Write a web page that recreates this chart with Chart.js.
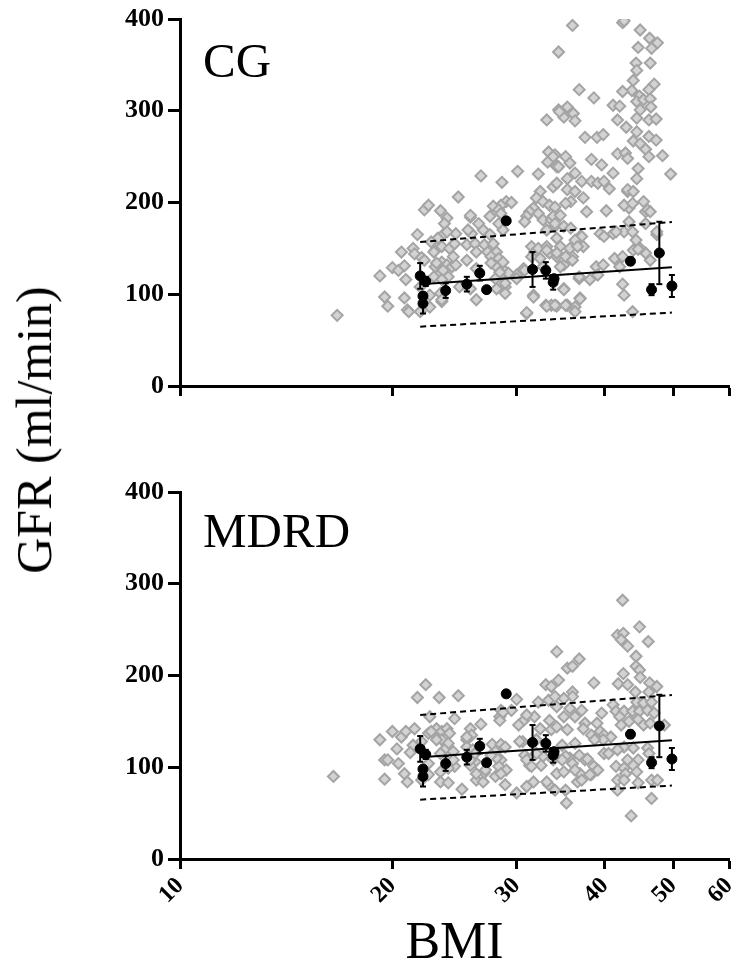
<html>
  <head>
    <style>
      body { margin: 0; background: #fff; }
      #wrap { position: relative; width: 738px; height: 976px; }
      #wrap canvas { position: absolute; left: 0; }
      .lbl { position: absolute; font-family: "Liberation Serif", "Times New Roman", serif; line-height: 1; white-space: nowrap; color: #000; }
    </style>
  </head>
  <body>
    <div id="wrap">
      <canvas id="cgChart" width="738" height="400" style="top:0px"></canvas>
      <canvas id="mdrdChart" width="738" height="516" style="top:460px"></canvas>
      <div class="lbl" style="left:203px; top:36px; font-size:49px;">CG</div>
      <div class="lbl" style="left:203px; top:506px; font-size:49px;">MDRD</div>
      <div class="lbl" style="left:34px; top:430px; font-size:50px; transform: translate(-50%,-50%) rotate(-90deg);">GFR (ml/min)</div>
    </div>
    <script src="https://cdn.jsdelivr.net/npm/chart.js@4.4.0/dist/chart.umd.min.js"></script>
    <script>
      // axis ticks
      const xTicks = [10, 20, 30, 40, 50, 60];
      const yTicks = [0, 100, 200, 300, 400];

      // individual subjects [BMI, GFR] - CG estimate
      const cgPoints = [
        [16.7,77],[19.2,120],[19.5,97],[19.7,87],[20.0,129],[20.4,126],[20.6,146],[20.8,131],[20.9,116],[20.8,96],
        [21.0,83],[21.1,81],[21.4,150],[21.5,144],[21.7,165],[22.2,192],[22.5,197],[22.0,140],[21.9,108],[21.9,81],
        [23.4,191],[23.9,183],[23.7,177],[24.8,206],[25.8,184],[26.7,229],[28.6,222],[30.1,234],[32.2,231],[33.3,255],
        [33.6,246],[34.0,252],[34.2,239],[33.8,217],[32.4,212],[32.0,205],[32.7,201],[33.4,197],[31.7,194],[31.3,190],
        [31.0,185],[30.8,179],[32.2,188],[32.7,181],[33.6,181],[34.0,174],[33.1,170],[29.0,201],[29.5,200],[28.5,197],
        [27.8,196],[28.3,192],[28.5,188],[27.5,185],[28.3,177],[25.9,166],[25.6,170],[24.6,166],[23.6,165],[23.2,161],
        [22.7,157],[23.0,148],[23.5,152],[24.1,150],[24.5,155],[25.5,154],[26.2,155],[26.3,146],[27.0,154],[27.8,155],
        [27.3,146],[28.1,146],[27.6,141],[28.3,139],[28.1,130],[28.7,135],[28.9,125],[28.5,121],[28.9,108],[28.9,101],
        [30.0,121],[30.7,128],[31.5,152],[31.8,146],[32.2,150],[33.1,152],[33.4,145],[34.2,141],[32.7,130],[31.7,99],
        [31.0,79],[33.0,88],[33.6,88],[22.2,137],[23.0,130],[23.5,135],[23.9,132],[24.3,130],[24.6,132],[23.4,123],
        [24.0,119],[24.9,108],[25.8,106],[23.4,101],[23.5,92],[22.6,99],[22.6,86],[26.3,94],
        [45.7,145],[47.4,165],[44.9,150],[45.7,190],[43.3,194],[43.1,212],[42.6,168],[39.4,166],[41.1,166],[36.8,117],
        [36.9,96],[35.0,106],[36.3,86],[35.4,88],[34.2,87],[33.1,87],[31.0,80],[31.7,97],[35.0,132],[36.0,141],
        [36.9,163],[37.3,152],[34.2,161],[33.1,148],[31.5,141],[32.4,139],[30.8,126],[30.0,117],[29.2,123],[28.9,112],
        [28.1,106],[28.0,117],[28.4,124],[27.6,134],[27.5,165],[28.7,170],[26.9,170],[26.5,177],[25.8,186],[26.3,128],
        [25.5,137],[24.4,141],[23.9,168],[22.9,146],[23.1,134],[23.6,126],[22.9,119],[23.5,116],[23.5,94],
        [36.0,393],[34.4,364],[42.4,396],[42.6,398],[44.9,388],[46.3,379],[47.5,374],[46.6,368],[44.6,369],[46.4,352],
        [44.3,352],[44.4,344],[43.9,333],[47.0,329],[46.2,323],[43.7,322],[42.4,321],[44.8,316],[44.4,310],[45.4,312],
        [46.4,313],[46.5,304],[44.9,301],[41.1,306],[42.0,305],[36.8,323],[38.6,314],[34.4,301],[35.4,304],[35.0,293],
        [36.1,297],[36.3,289],[41.7,290],[44.4,292],[46.2,290],[47.3,291],[42.9,282],[44.4,277],[37.5,271],[39.0,271],
        [39.8,274],[43.9,267],[44.9,264],[46.2,272],[47.3,268],[45.7,258],[41.7,253],[42.8,254],[43.1,248],[46.2,250],
        [48.3,251],[38.3,247],[39.6,241],[41.1,232],[44.6,237],[44.4,226],[49.6,231],[33.8,250],[34.2,240],[35.2,250],
        [35.7,243],[36.3,232],[37.1,223],[38.3,223],[39.1,221],[39.9,223],[40.6,215],[35.4,226],[34.2,221],[35.4,214],
        [36.3,212],[37.3,205],[35.8,201],[35.2,199],[34.0,195],[37.7,190],[40.2,191],[43.1,214],[43.9,212],[42.6,197],
        [43.8,199],[45.4,201],[46.0,192],[46.4,190],[33.8,185],[34.6,186],[34.0,177],[35.0,174],[35.8,172],[43.3,179],
        [45.7,177],[47.4,168],[37.1,163],[39.9,163],[41.5,168],[43.8,168],[44.3,159],[36.3,159],[34.6,152],[35.7,150],
        [36.6,152],[34.2,145],[35.2,141],[36.0,137],[34.6,130],[41.3,139],[42.4,141],[43.9,148],[44.6,149],[46.4,137],
        [38.9,130],[39.8,132],[42.0,130],[36.8,119],[38.1,116],[39.1,121],[35.0,105],[42.4,111],[42.6,99],[36.9,95],
        [34.0,88],[35.2,88],[36.3,81],[43.8,81],[33.1,290],[34.5,299],[33.2,244],[34.4,239]
      ];

      // individual subjects [BMI, GFR] - MDRD estimate
      const mdrdPoints = [
        [16.5,90],[19.2,130],[20.0,139],[20.6,133],[20.9,139],[21.5,142],[19.5,108],[19.7,108],[20.4,104],[19.5,87],
        [20.8,93],[21.0,84],[21.4,124],[21.7,176],[22.3,190],[23.3,176],[24.8,178],[22.6,155],[22.5,137],[23.1,142],
        [23.5,139],[23.9,142],[24.1,137],[23.5,130],[24.0,126],[23.7,119],[23.4,115],[24.4,117],[22.5,104],[22.5,92],
        [23.4,95],[23.4,84],[24.0,83],[24.5,101],[25.1,76],[24.5,153],[25.8,142],[25.5,130],[25.9,135],[25.5,122],
        [26.0,119],[26.2,106],[25.8,102],[26.3,86],[26.9,84],[26.7,147],[27.0,94],[27.7,125],[28.0,117],[28.5,125],
        [28.5,108],[28.3,101],[29.0,97],[28.0,90],[28.9,81],[28.4,155],[28.5,162],[30.0,174],[29.5,162],[30.7,151],
        [30.2,146],[30.6,128],[30.8,113],[31.3,102],[30.0,72],[31.0,79],[31.7,84],[32.2,171],[33.0,190],[33.3,173],
        [34.4,195],[34.2,226],[31.8,155],[32.4,142],[33.4,151],[33.6,141],[32.0,130],[32.7,112],[34.0,112],[32.5,102],
        [34.2,93],[33.3,81],
        [22.7,139],[23.1,130],[25.5,133],[28.4,151],[28.7,160],[30.3,128],[31.0,157],[34.2,166],[36.0,182],[31.0,108],
        [32.0,115],[31.5,101],[33.8,108],[35.7,110],[36.9,93],[37.5,108],[38.6,101],[33.1,84],[34.0,75],[38.3,92],
        [28.5,93],[28.1,110],[26.3,93],[27.1,97],[22.0,86],[24.0,99],[24.4,108],[25.8,108],[26.2,115],[27.6,113],
        [28.9,122],[20.3,120],[21.2,116],[22.0,128],
        [42.4,282],[44.8,253],[46.1,237],[41.7,244],[42.5,246],[42.2,239],[43.1,232],[44.3,221],[44.3,210],[44.8,206],
        [44.9,198],[42.5,202],[41.8,191],[43.1,190],[44.2,182],[46.3,192],[47.4,188],[46.2,182],[35.4,208],[36.0,210],
        [36.8,218],[38.6,192],[33.6,188],[36.0,177],[34.0,177],[35.0,175],[41.1,168],[41.5,161],[44.4,171],[45.4,170],
        [46.6,171],[42.6,161],[43.8,161],[44.8,161],[46.0,162],[47.0,159],[39.6,159],[37.1,162],[35.7,164],[35.0,155],
        [36.3,155],[37.5,148],[39.0,148],[42.0,155],[42.2,146],[43.3,150],[44.6,152],[45.4,146],[46.4,148],[48.6,146],
        [34.2,144],[35.4,141],[37.3,142],[38.3,135],[39.4,139],[39.9,135],[40.8,133],[39.8,130],[38.7,130],[36.3,126],
        [34.8,124],[42.6,122],[43.9,121],[46.0,121],[41.7,119],[39.9,115],[40.5,115],[37.8,109],[35.2,112],[36.8,113],
        [34.8,108],[43.1,108],[44.6,108],[46.2,115],[41.5,101],[42.6,99],[43.9,102],[44.4,95],[42.8,93],[39.1,97],
        [38.1,92],[36.0,104],[36.3,97],[35.0,95],[36.6,84],[37.1,86],[35.2,75],[35.3,61],[41.7,86],[42.6,86],
        [41.7,75],[44.6,83],[46.6,86],[47.5,86],[46.6,66],[43.6,47]
      ];

      // group means with SD bars (same in both panels)
      const meanBmi = [21.9, 22.3, 22.1, 22.1, 23.8, 25.5, 26.6, 27.2, 29.0, 31.6, 33.0, 33.9, 33.8, 43.5, 46.6, 47.8, 49.8];
      const meanGfr = [120, 114, 98, 90, 104, 111, 123, 105, 180, 127, 126, 117, 113, 136, 105, 145, 109];
      const meanSd  = [14, 5, 3, 11, 8, 8, 8, 2, 3, 19, 9, 4, 8, 4, 6, 34, 12];

      // regression line and prediction band
      const fitBmi = [21.9, 49.8];
      const fitMid = [111, 129.4];
      const fitUpper = [157, 178.7];
      const fitLower = [64.7, 80];

      const serif = "'Liberation Serif', 'Times New Roman', serif";

      function makePanel(id, points, showX, padTop, xH) {
        const scatter = points.map(p => ({x: p[0], y: p[1]}));
        const means = meanBmi.map((b, i) => ({x: b, y: meanGfr[i]}));
        const bars = [];
        meanBmi.forEach((b, i) => {
          bars.push({x: b, y: meanGfr[i] - meanSd[i]}, {x: b, y: meanGfr[i] + meanSd[i]}, {x: b, y: null});
        });
        const line = arr => fitBmi.map((b, i) => ({x: b, y: arr[i]}));

        return new Chart(document.getElementById(id), {
          type: 'scatter',
          data: {
            datasets: [
              { data: means, pointRadius: 5, pointBackgroundColor: '#000', pointBorderColor: '#000', order: 0 },
              { data: bars, showLine: true, spanGaps: false, borderColor: '#000', borderWidth: 2,
                pointStyle: 'line', pointRadius: 3, pointBorderWidth: 2, pointBorderColor: '#000', order: 1 },
              { data: line(fitMid), showLine: true, borderColor: '#000', borderWidth: 2, pointRadius: 0, order: 2 },
              { data: line(fitUpper), showLine: true, borderColor: '#000', borderWidth: 2, borderDash: [6, 4], pointRadius: 0, order: 2 },
              { data: line(fitLower), showLine: true, borderColor: '#000', borderWidth: 2, borderDash: [6, 4], pointRadius: 0, order: 2 },
              { data: scatter, pointStyle: 'rectRot', pointRadius: 5.5, pointBackgroundColor: '#d3d3d3',
                pointBorderColor: '#a4a4a4', pointBorderWidth: 2, order: 5 }
            ]
          },
          options: {
            responsive: false,
            animation: false,
            devicePixelRatio: 1,
            layout: { padding: { top: padTop, right: 9, left: 0, bottom: 0 } },
            plugins: { legend: { display: false }, tooltip: { enabled: false } },
            scales: {
              x: {
                type: 'logarithmic', min: 10, max: 60,
                afterBuildTicks: s => { s.ticks = xTicks.map(v => ({value: v})); },
                afterFit: s => { s.height = xH; s.paddingLeft = 0; s.paddingRight = 0; },
                border: { display: true, color: '#000', width: 3 },
                grid: { drawOnChartArea: false, drawTicks: true, tickLength: 10, tickWidth: 3, tickColor: '#000' },
                ticks: {
                  display: showX, autoSkip: false, minRotation: 45, maxRotation: 45, padding: 3,
                  color: '#000', font: { family: serif, weight: 'bold', size: 24 },
                  callback: v => String(v)
                },
                title: { display: showX, text: 'BMI', color: '#000', padding: 0, font: { family: serif, size: 52 } }
              },
              y: {
                min: 0, max: 400,
                afterBuildTicks: s => { s.ticks = yTicks.map(v => ({value: v})); },
                afterFit: s => { s.width = 180; s.paddingTop = 0; s.paddingBottom = 0; },
                border: { display: true, color: '#000', width: 3 },
                grid: { drawOnChartArea: false, drawTicks: true, tickLength: 12, tickWidth: 3, tickColor: '#000' },
                ticks: { padding: 4, color: '#000', font: { family: serif, weight: 'bold', size: 26 } }
              }
            }
          }
        });
      }

      makePanel('cgChart', cgPoints, false, 19, 14);
      makePanel('mdrdChart', mdrdPoints, true, 32, 117);
    </script>
  </body>
</html>
